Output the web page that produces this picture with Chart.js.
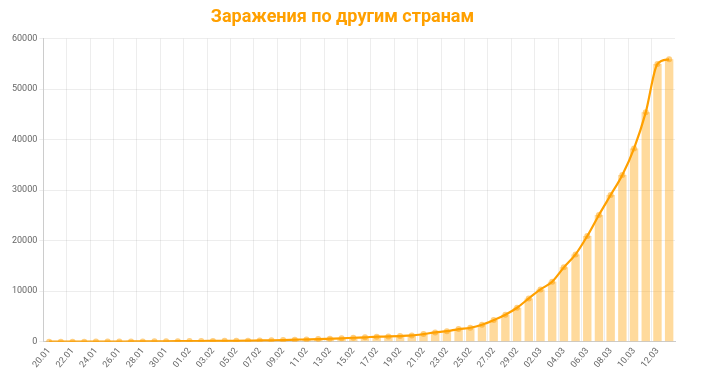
<!DOCTYPE html>
<html>
<head>
<meta charset="utf-8">
<script src="https://cdn.jsdelivr.net/npm/chart.js@4.4.0/dist/chart.umd.min.js"></script>
<style>
  html, body { margin: 0; padding: 0; background: #fff; }
  #wrap { width: 717px; height: 374px; }
</style>
</head>
<body>
<div id="wrap"><canvas id="myChart"></canvas></div>
<script>
// dates 20.01 - 13.03
let dates = [
    '20.01', '21.01', '22.01', '23.01', '24.01', '25.01', '26.01', '27.01', '28.01', '29.01', '30.01', '31.01',
    '01.02', '02.02', '03.02', '04.02', '05.02', '06.02', '07.02', '08.02', '09.02', '10.02',
    '11.02', '12.02', '13.02', '14.02', '15.02', '16.02', '17.02', '18.02', '19.02', '20.02',
    '21.02', '22.02', '23.02', '24.02', '25.02', '26.02', '27.02', '28.02', '29.02',
    '01.03', '02.03', '03.03', '04.03', '05.03', '06.03', '07.03', '08.03', '09.03', '10.03',
    '11.03', '12.03', '13.03'
];

// infections outside China
let cases = [
    4, 7, 10, 15, 25, 35, 45, 55, 65, 75, 95, 115,
    135, 150, 160, 175, 190, 220, 260, 290, 330, 400,
    460, 520, 600, 680, 790, 880, 1000, 1050, 1130, 1250,
    1520, 1850, 2100, 2500, 2770, 3370, 4290, 5350, 6730,
    8580, 10360, 11880, 14720, 17290, 20920, 25100, 29040, 33000, 38270,
    45400, 54980, 55900
];

let yTicks = [0, 10000, 20000, 30000, 40000, 50000, 60000];

let orange = '#ffa000';
let barColor = 'rgba(255, 168, 20, 0.42)';
let gridColor = 'rgba(0, 0, 0, 0.07)';

let ctx = document.getElementById('myChart').getContext('2d');
Chart.defaults.font.family = 'Roboto';

let myChart = new Chart(ctx, {
    type: 'bar',
    data: {
        labels: dates,
        datasets: [
            {
                type: 'line',
                data: cases,
                borderColor: orange,
                backgroundColor: 'rgba(255, 160, 0, 0.5)',
                borderWidth: 2.2,
                pointRadius: 3,
                pointBorderWidth: 0,
                cubicInterpolationMode: 'monotone',
                fill: false,
                order: 0
            },
            {
                type: 'bar',
                data: cases,
                backgroundColor: barColor,
                order: 1
            }
        ]
    },
    options: {
        responsive: true,
        maintainAspectRatio: false,
        animation: false,
        layout: { padding: { left: 10, right: 42, top: 0, bottom: 0 } },
        plugins: {
            legend: { display: false },
            tooltip: { enabled: false },
            title: {
                display: true,
                text: 'Заражения по другим странам',
                color: orange,
                font: { size: 18, weight: 'bold', family: 'Roboto' },
                padding: { top: 7, bottom: 10 }
            }
        },
        scales: {
            x: {
                grid: {
                    // only every other day gets a line
                    color: function(c) {
                        return c.index % 2 === 0 ? gridColor : 'rgba(0,0,0,0)';
                    },
                    drawTicks: false
                },
                border: { color: '#cccccc' },
                ticks: {
                    color: '#666',
                    font: { size: 9 },
                    minRotation: 50,
                    maxRotation: 50,
                    autoSkip: false,
                    padding: 4,
                    callback: function(value, index) {
                        return index % 2 === 0 ? dates[index] : '';
                    }
                }
            },
            y: {
                min: 0,
                max: 60000,
                afterBuildTicks: function(axis) {
                    axis.ticks = yTicks.map(v => ({ value: v }));
                },
                grid: { color: gridColor, drawTicks: true, tickLength: 4 },
                border: { color: '#cccccc' },
                ticks: {
                    color: '#666',
                    font: { size: 9 },
                    padding: 2,
                    callback: function(value) {
                        return String(value);
                    }
                }
            }
        }
    }
});
</script>
</body>
</html>
